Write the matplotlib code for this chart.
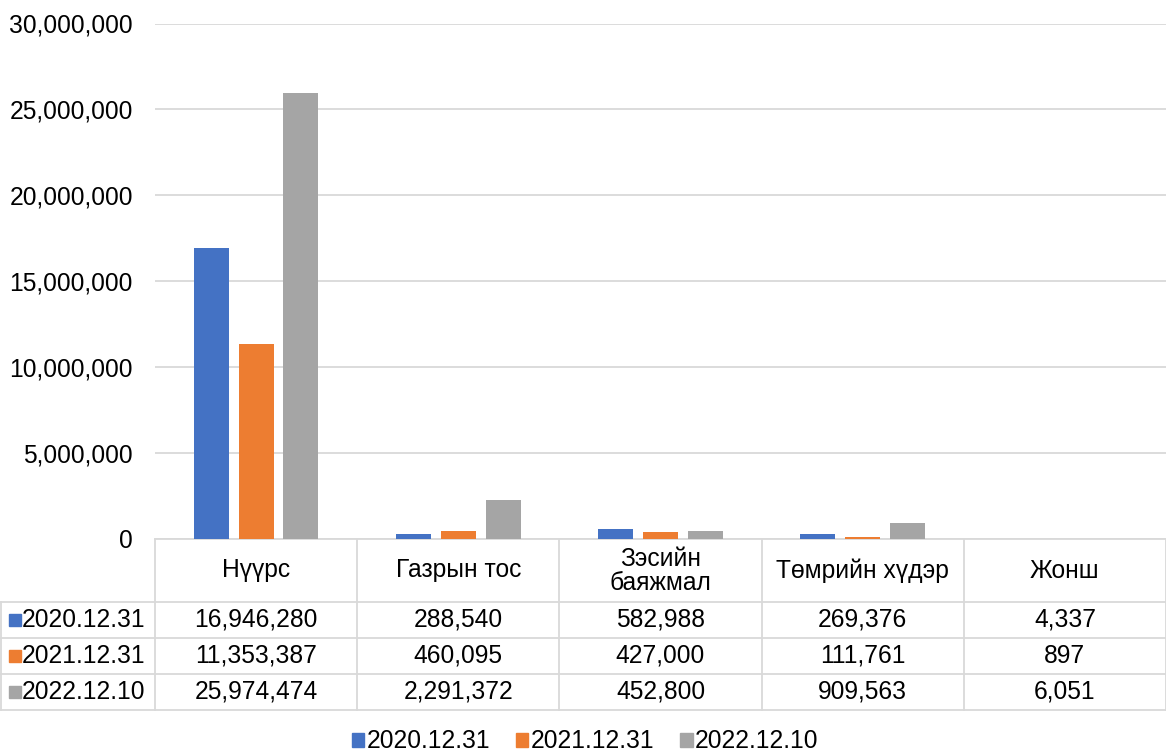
import matplotlib.pyplot as plt
from matplotlib.patches import Patch
from matplotlib.transforms import blended_transform_factory
from matplotlib.ticker import FuncFormatter

plt.rcParams['font.family'] = ['Liberation Sans', 'DejaVu Sans']

# Data
categories = ['Нүүрс', 'Газрын тос', 'Зэсийн\nбаяжмал', 'Төмрийн хүдэр', 'Жонш']
series_names = ['2020.12.31', '2021.12.31', '2022.12.10']
s2020 = [16946280, 288540, 582988, 269376, 4337]
s2021 = [11353387, 460095, 427000, 111761, 897]
s2022 = [25974474, 2291372, 452800, 909563, 6051]
series = [s2020, s2021, s2022]
colors = ['#4472C4', '#ED7D31', '#A5A5A5']
y_ticks = [0, 5000000, 10000000, 15000000, 20000000, 25000000, 30000000]

FS = 17.7
W, H = 1166, 752
fig = plt.figure(figsize=(W / 100, H / 100), dpi=100)

# plot area in pixels
left_px, right_px, top_px, zero_px = 155, 1166, 23.5, 539
ax = fig.add_axes([left_px / W, 1 - zero_px / H,
                   (right_px - left_px) / W, (zero_px - top_px) / H])

n = len(categories)
bar_w = 0.173
step = 0.222
for k, (vals, col) in enumerate(zip(series, colors)):
    xs = [i + (k - 1) * step for i in range(n)]
    ax.bar(xs, vals, width=bar_w, color=col, zorder=3)

ax.set_xlim(-0.5, n - 0.5)
ax.set_ylim(0, 30000000)
ax.set_yticks(y_ticks)
ax.yaxis.set_major_formatter(FuncFormatter(lambda v, p: f'{int(v):,}'))
ax.tick_params(axis='y', length=0, pad=16, labelsize=FS, labelcolor='#000000')
ax.set_xticks([])
ax.grid(axis='y', color='#D9D9D9', linewidth=1.3, zorder=0)
for sp in ax.spines.values():
    sp.set_visible(False)

# data table under the plot
tr = blended_transform_factory(ax.transData, ax.transAxes)
ax_h = zero_px - top_px
unit_px = (right_px - left_px) / n
header_h = 63 / ax_h
row_h = 36 / ax_h
label_left = -0.5 - (left_px - 1) / unit_px
line_kw = dict(color='#D9D9D9', linewidth=1.3, transform=tr, clip_on=False)

y_head_bot = -header_h
y_bottom = -header_h - 3 * row_h

# horizontal lines
ax.plot([-0.5, n - 0.5], [0, 0], **line_kw)
for r in range(4):
    y = -header_h - r * row_h
    ax.plot([label_left, n - 0.5], [y, y], **line_kw)
# vertical lines
for i in range(n + 1):
    ax.plot([i - 0.5, i - 0.5], [0, y_bottom], **line_kw)
ax.plot([label_left, label_left], [y_head_bot, y_bottom], **line_kw)

for i, cat in enumerate(categories):
    ax.text(i, -header_h / 2, cat, transform=tr, ha='center', va='center',
            fontsize=FS, linespacing=1.0)

for r, (name, vals, col) in enumerate(zip(series_names, series, colors)):
    yc = -header_h - (r + 0.5) * row_h
    ax.plot([label_left + 14 / unit_px], [yc], marker='s', markersize=8.5,
            color=col, transform=tr, clip_on=False, linestyle='none')
    ax.text(label_left + 21 / unit_px, yc, name, transform=tr, ha='left',
            va='center', fontsize=FS)
    for i, v in enumerate(vals):
        ax.text(i, yc, f'{v:,}', transform=tr, ha='center', va='center',
                fontsize=FS)

handles = [Patch(color=c, label=s) for c, s in zip(colors, series_names)]
fig.legend(handles=handles, loc='center', bbox_to_anchor=(0.502, 0.014),
           ncol=3, frameon=False, fontsize=FS, handlelength=0.5,
           handleheight=0.5, handletextpad=0.1, columnspacing=1.05,
           borderpad=0)

fig.savefig('out.png', dpi=100)
